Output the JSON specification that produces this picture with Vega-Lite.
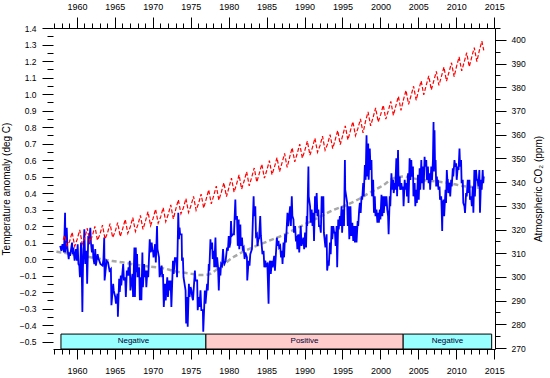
{
"$schema": "https://vega.github.io/schema/vega-lite/v6.json",
"width": 442, "height": 321,
"autosize": {"type": "none"},
"padding": {"left": 53, "top": 28, "right": 55, "bottom": 29},
"background": "#ffffff",
"config": {
 "view": {"stroke": null},
 "font": "Liberation Sans",
 "axis": {"grid": false, "labelFont": "Liberation Sans", "labelFontSize": 9, "labelColor": "#000000", "tickColor": "#000000", "domainColor": "#000000", "titleFont": "Liberation Sans", "titleFontWeight": "normal", "titleColor": "#000000", "labelFlush": false, "labelOverlap": false, "tickWidth": 1, "domainWidth": 1}
},
"datasets": {
 "pdo": [
  {"start": 1957.9, "end": 1977.0, "phase": "Negative"},
  {"start": 1977.0, "end": 2003.0, "phase": "Positive"},
  {"start": 2003.0, "end": 2014.66, "phase": "Negative"}
 ],
 "smooth": [
  {"t":1957.3,"v":0.045},{"t":1960,"v":0.025},{"t":1962.5,"v":0.005},{"t":1964.7,"v":-0.012},{"t":1966,"v":-0.02},{"t":1967.8,"v":-0.035},{"t":1969.5,"v":-0.045},{"t":1971.3,"v":-0.055},{"t":1973,"v":-0.075},{"t":1974.8,"v":-0.087},{"t":1976.3,"v":-0.097},{"t":1977.2,"v":-0.095},{"t":1978.9,"v":-0.047},{"t":1980.7,"v":0.014},{"t":1982.9,"v":0.065},{"t":1985,"v":0.105},{"t":1987.2,"v":0.146},{"t":1989.4,"v":0.196},{"t":1991.6,"v":0.246},{"t":1993.8,"v":0.297},{"t":1995.5,"v":0.327},{"t":1997.3,"v":0.367},{"t":1998.5,"v":0.4},{"t":2000.4,"v":0.448},{"t":2001.7,"v":0.489},{"t":2003,"v":0.5},{"t":2004.3,"v":0.489},{"t":2005.6,"v":0.479},{"t":2007.4,"v":0.47},{"t":2009.1,"v":0.46},{"t":2010.9,"v":0.442},{"t":2012.6,"v":0.435},{"t":2013.5,"v":0.428}
 ],
 "co2": [
  {"t":1958.2,"v":315.7},{"t":1958.37,"v":317.5},{"t":1958.71,"v":313.2},
  {"t":1959.04,"v":314.97},{"t":1959.37,"v":318.87},{"t":1959.71,"v":312.97},
  {"t":1960.04,"v":315.91},{"t":1960.37,"v":319.81},{"t":1960.71,"v":313.91},
  {"t":1961.04,"v":316.64},{"t":1961.37,"v":320.54},{"t":1961.71,"v":314.64},
  {"t":1962.04,"v":317.45},{"t":1962.37,"v":321.35},{"t":1962.71,"v":315.45},
  {"t":1963.04,"v":317.99},{"t":1963.37,"v":321.89},{"t":1963.71,"v":315.99},
  {"t":1964.04,"v":318.62},{"t":1964.37,"v":322.52},{"t":1964.71,"v":316.62},
  {"t":1965.04,"v":319.04},{"t":1965.37,"v":322.94},{"t":1965.71,"v":317.04},
  {"t":1966.04,"v":320.38},{"t":1966.37,"v":324.28},{"t":1966.71,"v":318.38},
  {"t":1967.04,"v":321.16},{"t":1967.37,"v":325.06},{"t":1967.71,"v":319.16},
  {"t":1968.04,"v":322.04},{"t":1968.37,"v":325.94},{"t":1968.71,"v":320.04},
  {"t":1969.04,"v":323.62},{"t":1969.37,"v":327.52},{"t":1969.71,"v":321.62},
  {"t":1970.04,"v":324.68},{"t":1970.37,"v":328.58},{"t":1970.71,"v":322.68},
  {"t":1971.04,"v":325.32},{"t":1971.37,"v":329.22},{"t":1971.71,"v":323.32},
  {"t":1972.04,"v":326.45},{"t":1972.37,"v":330.35},{"t":1972.71,"v":324.45},
  {"t":1973.04,"v":328.68},{"t":1973.37,"v":332.58},{"t":1973.71,"v":326.68},
  {"t":1974.04,"v":329.18},{"t":1974.37,"v":333.08},{"t":1974.71,"v":327.18},
  {"t":1975.04,"v":330.11},{"t":1975.37,"v":334.01},{"t":1975.71,"v":328.11},
  {"t":1976.04,"v":331.04},{"t":1976.37,"v":334.94},{"t":1976.71,"v":329.04},
  {"t":1977.04,"v":332.83},{"t":1977.37,"v":336.73},{"t":1977.71,"v":330.83},
  {"t":1978.04,"v":334.40},{"t":1978.37,"v":338.30},{"t":1978.71,"v":332.40},
  {"t":1979.04,"v":335.84},{"t":1979.37,"v":339.74},{"t":1979.71,"v":333.84},
  {"t":1980.04,"v":337.75},{"t":1980.37,"v":341.65},{"t":1980.71,"v":335.75},
  {"t":1981.04,"v":339.11},{"t":1981.37,"v":343.01},{"t":1981.71,"v":337.11},
  {"t":1982.04,"v":340.45},{"t":1982.37,"v":344.35},{"t":1982.71,"v":338.45},
  {"t":1983.04,"v":342.05},{"t":1983.37,"v":345.95},{"t":1983.71,"v":340.05},
  {"t":1984.04,"v":343.65},{"t":1984.37,"v":347.55},{"t":1984.71,"v":341.65},
  {"t":1985.04,"v":345.12},{"t":1985.37,"v":349.02},{"t":1985.71,"v":343.12},
  {"t":1986.04,"v":346.42},{"t":1986.37,"v":350.32},{"t":1986.71,"v":344.42},
  {"t":1987.04,"v":348.19},{"t":1987.37,"v":352.09},{"t":1987.71,"v":346.19},
  {"t":1988.04,"v":350.57},{"t":1988.37,"v":354.47},{"t":1988.71,"v":348.57},
  {"t":1989.04,"v":352.12},{"t":1989.37,"v":356.02},{"t":1989.71,"v":350.12},
  {"t":1990.04,"v":353.39},{"t":1990.37,"v":357.29},{"t":1990.71,"v":351.39},
  {"t":1991.04,"v":354.61},{"t":1991.37,"v":358.51},{"t":1991.71,"v":352.61},
  {"t":1992.04,"v":355.45},{"t":1992.37,"v":359.35},{"t":1992.71,"v":353.45},
  {"t":1993.04,"v":356.10},{"t":1993.37,"v":360.00},{"t":1993.71,"v":354.10},
  {"t":1994.04,"v":357.83},{"t":1994.37,"v":361.73},{"t":1994.71,"v":355.83},
  {"t":1995.04,"v":359.82},{"t":1995.37,"v":363.72},{"t":1995.71,"v":357.82},
  {"t":1996.04,"v":361.61},{"t":1996.37,"v":365.51},{"t":1996.71,"v":359.61},
  {"t":1997.04,"v":362.73},{"t":1997.37,"v":366.63},{"t":1997.71,"v":360.73},
  {"t":1998.04,"v":365.70},{"t":1998.37,"v":369.60},{"t":1998.71,"v":363.70},
  {"t":1999.04,"v":367.38},{"t":1999.37,"v":371.28},{"t":1999.71,"v":365.38},
  {"t":2000.04,"v":368.55},{"t":2000.37,"v":372.45},{"t":2000.71,"v":366.55},
  {"t":2001.04,"v":370.14},{"t":2001.37,"v":374.04},{"t":2001.71,"v":368.14},
  {"t":2002.04,"v":372.28},{"t":2002.37,"v":376.18},{"t":2002.71,"v":370.28},
  {"t":2003.04,"v":374.80},{"t":2003.37,"v":378.70},{"t":2003.71,"v":372.80},
  {"t":2004.04,"v":376.52},{"t":2004.37,"v":380.42},{"t":2004.71,"v":374.52},
  {"t":2005.04,"v":378.80},{"t":2005.37,"v":382.70},{"t":2005.71,"v":376.80},
  {"t":2006.04,"v":380.90},{"t":2006.37,"v":384.80},{"t":2006.71,"v":378.90},
  {"t":2007.04,"v":382.79},{"t":2007.37,"v":386.69},{"t":2007.71,"v":380.79},
  {"t":2008.04,"v":384.60},{"t":2008.37,"v":388.50},{"t":2008.71,"v":382.60},
  {"t":2009.04,"v":386.43},{"t":2009.37,"v":390.33},{"t":2009.71,"v":384.43},
  {"t":2010.04,"v":388.90},{"t":2010.37,"v":392.80},{"t":2010.71,"v":386.90},
  {"t":2011.04,"v":390.65},{"t":2011.37,"v":394.55},{"t":2011.71,"v":388.65},
  {"t":2012.04,"v":392.85},{"t":2012.37,"v":396.75},{"t":2012.71,"v":390.85},
  {"t":2013.04,"v":395.52},{"t":2013.37,"v":399.42},{"t":2013.62,"v":395.6}
 ],
 "temp": [
  {"t":1957.8,"v":0.08},{"t":1957.95,"v":0.05},{"t":1958.1,"v":0.09},{"t":1958.3,"v":0.04},{"t":1958.44,"v":0.28},{"t":1958.5,"v":0.04},{"t":1958.66,"v":0.19},{"t":1958.75,"v":0.07},{"t":1958.92,"v":0.0},{"t":1959.0,"v":0.04},{"t":1959.1,"v":0.02},{"t":1959.2,"v":0.05},{"t":1959.36,"v":0.1},{"t":1959.45,"v":0.03},{"t":1959.53,"v":0.07},{"t":1959.7,"v":-0.01},{"t":1959.88,"v":0.06},{"t":1960.0,"v":-0.01},{"t":1960.1,"v":0.09},{"t":1960.2,"v":-0.03},{"t":1960.32,"v":-0.04},{"t":1960.4,"v":-0.11},{"t":1960.54,"v":0.1},{"t":1960.6,"v":0.06},{"t":1960.67,"v":-0.16},{"t":1960.72,"v":-0.32},{"t":1960.8,"v":-0.05},{"t":1960.98,"v":0.18},{"t":1961.1,"v":-0.03},{"t":1961.28,"v":0.05},{"t":1961.35,"v":-0.15},{"t":1961.5,"v":0.14},{"t":1961.6,"v":0.09},{"t":1961.77,"v":0.19},{"t":1961.85,"v":0.1},{"t":1961.98,"v":0.04},{"t":1962.1,"v":0.09},{"t":1962.16,"v":0.01},{"t":1962.3,"v":-0.03},{"t":1962.42,"v":0.06},{"t":1962.5,"v":-0.04},{"t":1962.73,"v":0.03},{"t":1962.85,"v":0.0},{"t":1962.95,"v":-0.01},{"t":1963.1,"v":-0.03},{"t":1963.38,"v":-0.04},{"t":1963.5,"v":0.0},{"t":1963.6,"v":0.13},{"t":1963.65,"v":-0.13},{"t":1963.82,"v":-0.05},{"t":1963.9,"v":-0.01},{"t":1964.1,"v":-0.02},{"t":1964.3,"v":-0.07},{"t":1964.48,"v":-0.06},{"t":1964.55,"v":-0.28},{"t":1964.78,"v":-0.15},{"t":1964.85,"v":-0.19},{"t":1965.05,"v":-0.23},{"t":1965.15,"v":-0.27},{"t":1965.35,"v":-0.21},{"t":1965.4,"v":-0.35},{"t":1965.57,"v":-0.12},{"t":1965.65,"v":-0.2},{"t":1965.79,"v":-0.1},{"t":1965.85,"v":-0.16},{"t":1966.1,"v":-0.03},{"t":1966.2,"v":-0.13},{"t":1966.36,"v":-0.11},{"t":1966.45,"v":-0.23},{"t":1966.58,"v":-0.07},{"t":1966.7,"v":-0.1},{"t":1966.8,"v":-0.05},{"t":1966.9,"v":-0.1},{"t":1966.97,"v":-0.01},{"t":1967.05,"v":-0.19},{"t":1967.32,"v":-0.09},{"t":1967.4,"v":-0.23},{"t":1967.58,"v":0.07},{"t":1967.65,"v":-0.23},{"t":1967.76,"v":0.07},{"t":1967.85,"v":-0.08},{"t":1967.93,"v":0.03},{"t":1968.0,"v":-0.11},{"t":1968.2,"v":-0.05},{"t":1968.3,"v":-0.25},{"t":1968.41,"v":-0.11},{"t":1968.5,"v":-0.25},{"t":1968.63,"v":0.04},{"t":1968.7,"v":-0.17},{"t":1968.85,"v":-0.03},{"t":1968.95,"v":-0.11},{"t":1969.07,"v":-0.07},{"t":1969.15,"v":-0.17},{"t":1969.29,"v":-0.07},{"t":1969.4,"v":-0.11},{"t":1969.6,"v":0.12},{"t":1969.7,"v":0.04},{"t":1969.86,"v":0.1},{"t":1969.95,"v":0.05},{"t":1970.03,"v":0.05},{"t":1970.1,"v":0.01},{"t":1970.3,"v":0.09},{"t":1970.4,"v":-0.02},{"t":1970.56,"v":0.2},{"t":1970.62,"v":0.06},{"t":1970.82,"v":0.01},{"t":1970.9,"v":-0.11},{"t":1971.17,"v":-0.04},{"t":1971.25,"v":-0.11},{"t":1971.35,"v":-0.09},{"t":1971.45,"v":-0.29},{"t":1971.61,"v":-0.15},{"t":1971.7,"v":-0.25},{"t":1971.91,"v":-0.11},{"t":1972.0,"v":-0.23},{"t":1972.13,"v":-0.13},{"t":1972.2,"v":-0.19},{"t":1972.35,"v":-0.13},{"t":1972.45,"v":-0.29},{"t":1972.66,"v":-0.01},{"t":1972.75,"v":-0.09},{"t":1972.92,"v":0.01},{"t":1973.0,"v":-0.01},{"t":1973.1,"v":0.01},{"t":1973.2,"v":-0.11},{"t":1973.36,"v":0.28},{"t":1973.45,"v":0.12},{"t":1973.53,"v":0.19},{"t":1973.6,"v":0.15},{"t":1973.8,"v":0.15},{"t":1973.85,"v":-0.01},{"t":1973.97,"v":0.01},{"t":1974.05,"v":-0.11},{"t":1974.32,"v":-0.19},{"t":1974.4,"v":-0.39},{"t":1974.54,"v":-0.23},{"t":1974.6,"v":-0.41},{"t":1974.76,"v":-0.15},{"t":1974.85,"v":-0.23},{"t":1974.98,"v":-0.17},{"t":1975.1,"v":-0.19},{"t":1975.2,"v":-0.23},{"t":1975.3,"v":-0.25},{"t":1975.55,"v":-0.07},{"t":1975.62,"v":-0.13},{"t":1975.85,"v":-0.13},{"t":1975.92,"v":-0.31},{"t":1976.07,"v":-0.23},{"t":1976.15,"v":-0.29},{"t":1976.29,"v":-0.19},{"t":1976.4,"v":-0.31},{"t":1976.6,"v":-0.31},{"t":1976.65,"v":-0.44},{"t":1976.86,"v":-0.19},{"t":1976.95,"v":-0.27},{"t":1977.16,"v":-0.15},{"t":1977.25,"v":-0.19},{"t":1977.38,"v":-0.03},{"t":1977.45,"v":-0.07},{"t":1977.6,"v":0.12},{"t":1977.65,"v":0.06},{"t":1977.82,"v":0.1},{"t":1977.9,"v":0.0},{"t":1978.04,"v":0.05},{"t":1978.1,"v":-0.05},
  {"t":1978.26,"v":0.13},{"t":1978.35,"v":-0.05},{"t":1978.48,"v":0.01},{"t":1978.6,"v":-0.05},{"t":1978.7,"v":-0.19},{"t":1978.8,"v":-0.05},{"t":1978.91,"v":-0.1},{"t":1979.0,"v":-0.03},{"t":1979.13,"v":-0.04},{"t":1979.26,"v":0.06},{"t":1979.35,"v":-0.02},{"t":1979.44,"v":-0.03},{"t":1979.6,"v":-0.01},{"t":1979.79,"v":0.07},{"t":1979.9,"v":0.05},{"t":1980.01,"v":0.14},{"t":1980.1,"v":0.07},{"t":1980.23,"v":0.1},{"t":1980.31,"v":0.23},{"t":1980.4,"v":0.14},{"t":1980.58,"v":0.15},{"t":1980.7,"v":0.15},{"t":1980.88,"v":0.36},{"t":1980.95,"v":0.24},{"t":1981.1,"v":0.26},{"t":1981.2,"v":0.08},{"t":1981.32,"v":0.24},{"t":1981.4,"v":0.06},{"t":1981.54,"v":0.21},{"t":1981.6,"v":0.08},{"t":1981.76,"v":0.13},{"t":1981.85,"v":0.06},{"t":1981.98,"v":0.07},{"t":1982.1,"v":0.0},{"t":1982.2,"v":0.04},{"t":1982.41,"v":0.01},{"t":1982.45,"v":-0.13},{"t":1982.63,"v":-0.01},{"t":1982.75,"v":-0.04},{"t":1982.85,"v":0.03},{"t":1983.07,"v":0.06},{"t":1983.29,"v":0.38},{"t":1983.35,"v":0.26},{"t":1983.51,"v":0.32},{"t":1983.6,"v":0.14},{"t":1983.73,"v":0.15},{"t":1983.8,"v":0.08},{"t":1983.95,"v":0.13},{"t":1984.0,"v":0.12},{"t":1984.16,"v":0.26},{"t":1984.25,"v":0.14},{"t":1984.38,"v":0.07},{"t":1984.45,"v":0.03},{"t":1984.6,"v":0.05},{"t":1984.7,"v":-0.05},{"t":1984.82,"v":-0.01},{"t":1984.95,"v":-0.04},{"t":1985.1,"v":-0.03},{"t":1985.26,"v":-0.27},{"t":1985.35,"v":-0.03},{"t":1985.48,"v":-0.01},{"t":1985.55,"v":-0.09},{"t":1985.7,"v":-0.01},{"t":1985.8,"v":-0.05},{"t":1986.0,"v":0.02},{"t":1986.1,"v":-0.07},{"t":1986.35,"v":0.13},{"t":1986.45,"v":0.08},{"t":1986.57,"v":0.11},{"t":1986.65,"v":0.07},{"t":1986.79,"v":0.08},{"t":1986.9,"v":0.01},{"t":1987.01,"v":0.05},{"t":1987.1,"v":-0.03},{"t":1987.23,"v":0.1},{"t":1987.3,"v":0.01},{"t":1987.44,"v":0.15},{"t":1987.55,"v":0.1},{"t":1987.75,"v":0.28},{"t":1987.85,"v":0.2},{"t":1988.1,"v":0.32},{"t":1988.2,"v":0.2},{"t":1988.32,"v":0.38},{"t":1988.4,"v":0.26},{"t":1988.54,"v":0.24},{"t":1988.6,"v":0.16},{"t":1988.76,"v":0.2},{"t":1988.85,"v":0.12},{"t":1988.98,"v":0.13},{"t":1989.05,"v":0.06},{"t":1989.19,"v":0.15},{"t":1989.3,"v":0.04},{"t":1989.5,"v":0.2},{"t":1989.6,"v":0.08},{"t":1989.85,"v":0.13},{"t":1989.95,"v":0.06},{"t":1990.07,"v":0.16},{"t":1990.2,"v":0.07},{"t":1990.29,"v":0.26},{"t":1990.35,"v":0.2},{"t":1990.51,"v":0.56},{"t":1990.55,"v":0.38},{"t":1990.73,"v":0.32},{"t":1990.8,"v":0.22},{"t":1990.94,"v":0.3},{"t":1991.05,"v":0.2},{"t":1991.16,"v":0.28},{"t":1991.25,"v":0.11},{"t":1991.38,"v":0.38},{"t":1991.45,"v":0.28},{"t":1991.6,"v":0.4},{"t":1991.7,"v":0.26},{"t":1991.82,"v":0.3},{"t":1991.9,"v":0.2},{"t":1992.04,"v":0.2},{"t":1992.15,"v":0.16},{"t":1992.26,"v":0.38},{"t":1992.35,"v":0.28},{"t":1992.48,"v":0.38},{"t":1992.55,"v":0.16},{"t":1992.69,"v":0.1},{"t":1992.75,"v":0.07},{"t":1992.91,"v":0.15},{"t":1992.98,"v":-0.07},{"t":1993.13,"v":-0.01},{"t":1993.2,"v":-0.04},{"t":1993.35,"v":0.1},{"t":1993.45,"v":0.03},{"t":1993.57,"v":0.2},{"t":1993.65,"v":0.12},{"t":1993.79,"v":0.2},{"t":1993.9,"v":0.16},{"t":1994.01,"v":0.16},{"t":1994.1,"v":0.08},{"t":1994.23,"v":0.2},{"t":1994.3,"v":-0.05},{"t":1994.44,"v":0.24},{"t":1994.5,"v":0.18},{"t":1994.66,"v":0.26},{"t":1994.75,"v":0.2},{"t":1994.88,"v":0.32},{"t":1994.95,"v":0.16},{"t":1995.1,"v":0.3},{"t":1995.2,"v":0.2},{"t":1995.32,"v":0.6},{"t":1995.36,"v":0.42},{"t":1995.62,"v":0.34},{"t":1995.7,"v":0.2},{"t":1995.8,"v":0.32},{"t":1995.9,"v":0.12},
  {"t":1996.05,"v":0.32},{"t":1996.15,"v":0.14},{"t":1996.3,"v":0.22},{"t":1996.42,"v":0.11},{"t":1996.55,"v":0.2},{"t":1996.64,"v":0.1},{"t":1996.75,"v":0.2},{"t":1996.85,"v":0.1},{"t":1997.0,"v":0.23},{"t":1997.07,"v":0.2},{"t":1997.2,"v":0.3},{"t":1997.29,"v":0.34},{"t":1997.4,"v":0.28},{"t":1997.51,"v":0.38},{"t":1997.6,"v":0.36},{"t":1997.73,"v":0.46},{"t":1997.8,"v":0.38},{"t":1997.95,"v":0.57},{"t":1998.05,"v":0.48},{"t":1998.17,"v":0.75},{"t":1998.25,"v":0.5},{"t":1998.39,"v":0.7},{"t":1998.45,"v":0.48},{"t":1998.6,"v":0.67},{"t":1998.7,"v":0.54},{"t":1998.82,"v":0.6},{"t":1998.9,"v":0.38},{"t":1999.04,"v":0.48},{"t":1999.15,"v":0.28},{"t":1999.26,"v":0.38},{"t":1999.35,"v":0.26},{"t":1999.48,"v":0.3},{"t":1999.6,"v":0.22},{"t":1999.7,"v":0.28},{"t":1999.8,"v":0.22},{"t":1999.92,"v":0.3},{"t":2000.0,"v":0.24},{"t":2000.14,"v":0.39},{"t":2000.25,"v":0.26},{"t":2000.35,"v":0.38},{"t":2000.45,"v":0.28},{"t":2000.57,"v":0.38},{"t":2000.65,"v":0.32},{"t":2000.79,"v":0.38},{"t":2000.9,"v":0.3},{"t":2001.01,"v":0.26},{"t":2001.08,"v":0.15},{"t":2001.23,"v":0.38},{"t":2001.3,"v":0.32},{"t":2001.45,"v":0.52},{"t":2001.55,"v":0.42},{"t":2001.67,"v":0.48},{"t":2001.75,"v":0.4},{"t":2001.89,"v":0.46},{"t":2001.95,"v":0.42},{"t":2002.1,"v":0.61},{"t":2002.2,"v":0.38},{"t":2002.32,"v":0.66},{"t":2002.4,"v":0.44},{"t":2002.54,"v":0.5},{"t":2002.6,"v":0.42},{"t":2002.76,"v":0.46},{"t":2002.85,"v":0.42},{"t":2002.98,"v":0.44},{"t":2003.05,"v":0.32},{"t":2003.2,"v":0.48},{"t":2003.3,"v":0.42},{"t":2003.42,"v":0.46},{"t":2003.5,"v":0.38},{"t":2003.64,"v":0.52},{"t":2003.7,"v":0.34},{"t":2003.85,"v":0.61},{"t":2003.95,"v":0.48},{"t":2004.07,"v":0.6},{"t":2004.15,"v":0.5},{"t":2004.29,"v":0.56},{"t":2004.35,"v":0.38},{"t":2004.51,"v":0.46},{"t":2004.6,"v":0.32},{"t":2004.73,"v":0.42},{"t":2004.8,"v":0.34},{"t":2004.95,"v":0.51},{"t":2005.05,"v":0.36},{"t":2005.17,"v":0.55},{"t":2005.25,"v":0.42},{"t":2005.39,"v":0.6},{"t":2005.45,"v":0.46},{"t":2005.6,"v":0.56},{"t":2005.7,"v":0.42},{"t":2005.82,"v":0.62},{"t":2005.9,"v":0.56},{"t":2006.04,"v":0.6},{"t":2006.12,"v":0.48},{"t":2006.26,"v":0.56},{"t":2006.35,"v":0.46},{"t":2006.48,"v":0.52},{"t":2006.55,"v":0.42},{"t":2006.7,"v":0.56},{"t":2006.8,"v":0.48},{"t":2006.92,"v":0.6},{"t":2007.0,"v":0.83},{"t":2007.05,"v":0.53},{"t":2007.13,"v":0.78},{"t":2007.2,"v":0.55},{"t":2007.27,"v":0.6},{"t":2007.35,"v":0.44},{"t":2007.44,"v":0.5},{"t":2007.5,"v":0.44},{"t":2007.57,"v":0.48},{"t":2007.65,"v":0.42},{"t":2007.79,"v":0.44},{"t":2007.85,"v":0.36},{"t":2008.01,"v":0.38},{"t":2008.07,"v":0.3},{"t":2008.14,"v":0.17},{"t":2008.2,"v":0.33},{"t":2008.32,"v":0.36},{"t":2008.4,"v":0.26},{"t":2008.58,"v":0.42},{"t":2008.65,"v":0.34},{"t":2008.75,"v":0.54},{"t":2008.82,"v":0.48},{"t":2008.88,"v":0.48},{"t":2008.95,"v":0.4},{"t":2009.1,"v":0.46},{"t":2009.2,"v":0.38},{"t":2009.32,"v":0.48},{"t":2009.4,"v":0.44},{"t":2009.54,"v":0.55},{"t":2009.6,"v":0.5},{"t":2009.76,"v":0.6},{"t":2009.85,"v":0.56},{"t":2009.98,"v":0.58},{"t":2010.05,"v":0.48},{"t":2010.2,"v":0.56},{"t":2010.3,"v":0.54},{"t":2010.42,"v":0.67},{"t":2010.5,"v":0.56},{"t":2010.63,"v":0.6},{"t":2010.7,"v":0.46},{"t":2010.85,"v":0.48},{"t":2010.92,"v":0.34},{"t":2011.07,"v":0.32},{"t":2011.15,"v":0.28},{"t":2011.29,"v":0.4},{"t":2011.38,"v":0.38},{"t":2011.51,"v":0.48},{"t":2011.6,"v":0.4},{"t":2011.73,"v":0.48},{"t":2011.8,"v":0.36},{"t":2011.95,"v":0.38},{"t":2012.05,"v":0.32},{"t":2012.17,"v":0.44},{"t":2012.25,"v":0.28},{"t":2012.38,"v":0.54},{"t":2012.45,"v":0.38},{"t":2012.6,"v":0.54},{"t":2012.7,"v":0.48},{"t":2012.82,"v":0.48},{"t":2012.9,"v":0.44},{"t":2013.04,"v":0.54},{"t":2013.12,"v":0.28},{"t":2013.26,"v":0.48},{"t":2013.35,"v":0.42},{"t":2013.48,"v":0.54},{"t":2013.55,"v":0.46},{"t":2013.62,"v":0.5}
 ]
},
"layer": [
 {
  "data": {"name": "pdo"},
  "mark": {"type": "rect", "stroke": "#000000", "strokeWidth": 1},
  "encoding": {
   "x": {"field": "start", "type": "quantitative", "scale": {"domain": [1956.85, 2015.1], "nice": false, "zero": false},
    "axis": {"orient": "bottom", "title": null, "format": "d",
     "values": [1957,1958,1959,1960,1961,1962,1963,1964,1965,1966,1967,1968,1969,1970,1971,1972,1973,1974,1975,1976,1977,1978,1979,1980,1981,1982,1983,1984,1985,1986,1987,1988,1989,1990,1991,1992,1993,1994,1995,1996,1997,1998,1999,2000,2001,2002,2003,2004,2005,2006,2007,2008,2009,2010,2011,2012,2013,2014,2015],
     "labelExpr": "datum.value % 5 === 0 ? datum.label : ''",
     "tickSize": {"condition": {"test": "datum.value % 5 === 0", "value": 10}, "value": 5},
     "labelPadding": 7}},
   "x2": {"field": "end"},
   "y": {"datum": -0.4545, "type": "quantitative", "scale": {"domain": [-0.545, 1.4], "nice": false, "zero": false}, "axis": null},
   "y2": {"datum": -0.545},
   "color": {"field": "phase", "type": "nominal", "scale": {"domain": ["Negative", "Positive"], "range": ["#99FFFF", "#FFCCCC"]}, "legend": null}
  }
 },
 {
  "data": {"name": "pdo"},
  "transform": [{"calculate": "(datum.start + datum.end) / 2", "as": "mid"}],
  "mark": {"type": "text", "fontSize": 8, "color": "#000033", "baseline": "middle", "font": "Liberation Sans"},
  "encoding": {
   "x": {"field": "mid", "type": "quantitative", "scale": {"domain": [1956.85, 2015.1], "nice": false, "zero": false}, "axis": null},
   "y": {"datum": -0.497, "type": "quantitative", "scale": {"domain": [-0.545, 1.4], "nice": false, "zero": false}, "axis": null},
   "text": {"field": "phase"}
  }
 },
 {
  "data": {"name": "smooth"},
  "mark": {"type": "line", "color": "#A8A8A8", "strokeWidth": 2.5, "strokeDash": [5, 3], "interpolate": "monotone"},
  "encoding": {
   "x": {"field": "t", "type": "quantitative", "scale": {"domain": [1956.85, 2015.1], "nice": false, "zero": false}, "axis": null},
   "y": {"field": "v", "type": "quantitative", "scale": {"domain": [-0.545, 1.4], "nice": false, "zero": false}, "axis": null}
  }
 },
 {
  "data": {"name": "temp"},
  "mark": {"type": "line", "color": "#0000FF", "strokeWidth": 1.8},
  "encoding": {
   "x": {"field": "t", "type": "quantitative", "scale": {"domain": [1956.85, 2015.1], "nice": false, "zero": false}, "axis": null},
   "y": {"field": "v", "type": "quantitative", "scale": {"domain": [-0.545, 1.4], "nice": false, "zero": false},
    "axis": {"orient": "left", "title": "Temperature anomaly (deg C)", "titleFontSize": 10, "titlePadding": 8, "domain": false,
     "values": [-0.5,-0.45,-0.4,-0.35,-0.3,-0.25,-0.2,-0.15,-0.1,-0.05,0,0.05,0.1,0.15,0.2,0.25,0.3,0.35,0.4,0.45,0.5,0.55,0.6,0.65,0.7,0.75,0.8,0.85,0.9,0.95,1.0,1.05,1.1,1.15,1.2,1.25,1.3,1.35,1.4],
     "labelExpr": "abs(datum.value * 10 - round(datum.value * 10)) < 0.001 ? format(datum.value, '.1f') : ''",
     "tickSize": {"condition": {"test": "abs(datum.value * 10 - round(datum.value * 10)) < 0.001", "value": 11}, "value": 6},
     "labelPadding": 6, "labelFontSize": 8.5}}
  }
 },
 {
  "data": {"name": "co2"},
  "mark": {"type": "line", "color": "#FF0000", "strokeWidth": 1.2, "strokeDash": [4, 2]},
  "encoding": {
   "x": {"field": "t", "type": "quantitative", "scale": {"domain": [1956.85, 2015.1], "nice": false, "zero": false},
    "axis": {"orient": "top", "title": null, "format": "d",
     "values": [1957,1958,1959,1960,1961,1962,1963,1964,1965,1966,1967,1968,1969,1970,1971,1972,1973,1974,1975,1976,1977,1978,1979,1980,1981,1982,1983,1984,1985,1986,1987,1988,1989,1990,1991,1992,1993,1994,1995,1996,1997,1998,1999,2000,2001,2002,2003,2004,2005,2006,2007,2008,2009,2010,2011,2012,2013,2014,2015],
     "labelExpr": "datum.value % 5 === 0 ? datum.label : ''",
     "tickSize": {"condition": {"test": "datum.value % 5 === 0", "value": 11}, "value": 5},
     "labelPadding": 6}},
   "y": {"field": "v", "type": "quantitative", "scale": {"domain": [269.6, 405], "nice": false, "zero": false},
    "axis": {"orient": "right", "title": "Atmospheric CO₂ (ppm)", "titleFontSize": 10, "titleAngle": 270, "titlePadding": 18,
     "values": [270,275,280,285,290,295,300,305,310,315,320,325,330,335,340,345,350,355,360,365,370,375,380,385,390,395,400,405],
     "labelExpr": "datum.value % 10 === 0 ? datum.label : ''",
     "tickSize": {"condition": {"test": "datum.value % 10 === 0", "value": 11}, "value": 5},
     "labelPadding": 5, "labelFontSize": 8.5}}
  }
 },
 {
  "mark": {"type": "text", "align": "left", "baseline": "middle", "fontSize": 8, "color": "#FF0000", "font": "Liberation Sans"},
  "encoding": {
   "x": {"datum": 1957.38, "type": "quantitative", "scale": {"domain": [1956.85, 2015.1], "nice": false, "zero": false}, "axis": null},
   "y": {"datum": 1.339, "type": "quantitative", "scale": {"domain": [-0.545, 1.4], "nice": false, "zero": false}, "axis": null},
   "text": {"value": "Atmospheric CO₂ (Mauna Loa)"}
  }
 },
 {
  "mark": {"type": "text", "align": "left", "baseline": "middle", "fontSize": 8, "color": "#0000FF", "font": "Liberation Sans"},
  "encoding": {
   "x": {"datum": 1957.38, "type": "quantitative", "scale": {"domain": [1956.85, 2015.1], "nice": false, "zero": false}, "axis": null},
   "y": {"datum": 1.248, "type": "quantitative", "scale": {"domain": [-0.545, 1.4], "nice": false, "zero": false}, "axis": null},
   "text": {"value": "Global temperature anomaly (HadCRUT4)"}
  }
 },
 {
  "mark": {"type": "text", "align": "center", "baseline": "middle", "fontSize": 6, "angle": 270, "color": "#FF0000", "font": "Liberation Sans"},
  "encoding": {
   "x": {"datum": 2014.75, "type": "quantitative", "scale": {"domain": [1956.85, 2015.1], "nice": false, "zero": false}, "axis": null},
   "y": {"datum": 386.4, "type": "quantitative", "scale": {"domain": [269.6, 405], "nice": false, "zero": false}, "axis": null},
   "text": {"value": "August 2013"}
  }
 },
 {
  "mark": {"type": "text", "align": "center", "baseline": "middle", "fontSize": 6, "angle": 270, "color": "#0000FF", "font": "Liberation Sans"},
  "encoding": {
   "x": {"datum": 2014.6, "type": "quantitative", "scale": {"domain": [1956.85, 2015.1], "nice": false, "zero": false}, "axis": null},
   "y": {"datum": 0.436, "type": "quantitative", "scale": {"domain": [-0.545, 1.4], "nice": false, "zero": false}, "axis": null},
   "text": {"value": "August 2013"}
  }
 },
 {
  "mark": {"type": "text", "align": "right", "baseline": "middle", "fontSize": 5.5, "color": "#0000FF", "font": "Liberation Sans"},
  "encoding": {
   "x": {"datum": 2014.18, "type": "quantitative", "scale": {"domain": [1956.85, 2015.1], "nice": false, "zero": false}, "axis": null},
   "y": {"datum": -0.406, "type": "quantitative", "scale": {"domain": [-0.545, 1.4], "nice": false, "zero": false}, "axis": null},
   "text": {"value": "Climate4you graphs"}
  }
 }
],
"resolve": {"scale": {"y": "independent"}, "axis": {"x": "independent", "y": "independent"}}
}
